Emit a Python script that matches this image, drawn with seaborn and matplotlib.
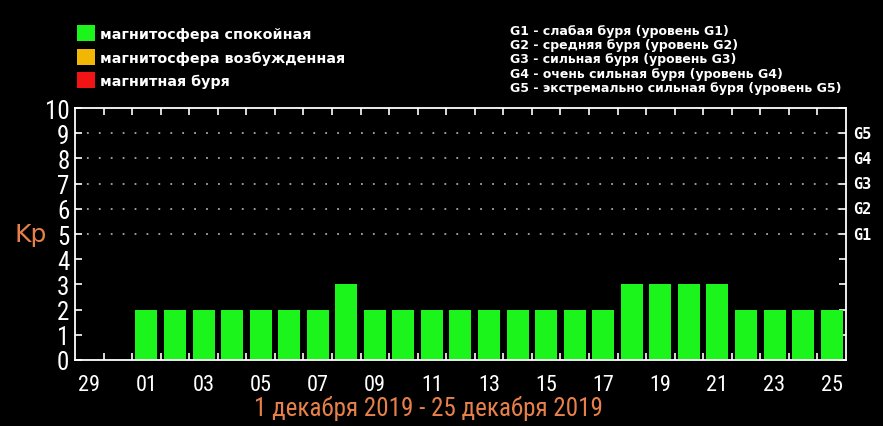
import numpy as np
import pandas as pd
import matplotlib
matplotlib.use("Agg")
import matplotlib.pyplot as plt
import seaborn as sns
from matplotlib.patches import Patch

# Kp index, 29 Nov 2019 - 25 Dec 2019
days = ['29', '30', '01', '02', '03', '04', '05', '06', '07', '08', '09', '10', '11', '12',
        '13', '14', '15', '16', '17', '18', '19', '20', '21', '22', '23', '24', '25']
kp = [0, 0, 2, 2, 2, 2, 2, 2, 2, 3, 2, 2, 2, 2,
      2, 2, 2, 2, 2, 3, 3, 3, 3, 2, 2, 2, 2]
storm_levels = [5, 6, 7, 8, 9]
storm_labels = ['G1', 'G2', 'G3', 'G4', 'G5']
legend_labels = ['магнитосфера спокойная', 'магнитосфера возбужденная', 'магнитная буря']
legend_colors = ['#1cf51c', '#f2b705', '#f21414']
g_descr = ['G1 - слабая буря (уровень G1)',
           'G2 - средняя буря (уровень G2)',
           'G3 - сильная буря (уровень G3)',
           'G4 - очень сильная буря (уровень G4)',
           'G5 - экстремально сильная буря (уровень G5)']
period = '1 декабря 2019 - 25 декабря 2019'

df = pd.DataFrame({'day': days, 'kp': kp})

sns.set_style('dark')
plt.rcParams['font.family'] = ['DejaVu Sans']
# condensed look for the numbers, falls through to whatever is installed
narrow = ['Roboto Condensed', 'Liberation Sans Narrow', 'Roboto', 'DejaVu Sans']
orange = '#e8804a'

fig = plt.figure(figsize=(8.83, 4.27), dpi=100, facecolor='black')
ax = fig.add_axes([0.085, 0.1546, 0.873, 0.59])
ax.set_facecolor('black')

sns.barplot(data=df, x='day', y='kp', order=days, color=legend_colors[0],
            saturation=1, width=0.77, linewidth=0, ax=ax)

ax.set_xlim(-0.5, len(days) - 0.5)
ax.set_ylim(0, 10)

# dotted storm-level lines
for lv in storm_levels:
    ax.axhline(lv, color='#a8a8a8', linestyle=(0, (1, 5.6)), linewidth=1.3, zorder=0)

for s in ax.spines.values():
    s.set_color('white')
    s.set_linewidth(1.3)

ax.set_yticks(range(0, 11))
ax.set_yticklabels([str(i) for i in range(0, 11)], family=narrow, fontsize=18, color='white')
ax.tick_params(axis='y', which='major', direction='in', length=5, width=1.2, color='white',
               left=True, right=True, pad=4)

ax.set_xticks(range(0, len(days), 2))
ax.set_xticklabels(days[::2], family=narrow, fontsize=16, color='white')
ax.tick_params(axis='x', which='major', length=0, pad=10)
ax.set_xticks(np.arange(0.5, len(days) - 1, 1), minor=True)
ax.tick_params(axis='x', which='minor', direction='in', length=5, width=1.2, color='white',
               top=True, bottom=True)
ax.grid(False)
ax.set_xlabel('')
ax.set_ylabel('')

ax.text(-0.057, 5, 'Kp', transform=ax.get_yaxis_transform(), color=orange,
        fontsize=18, ha='center', va='center')
for lv, lab in zip(storm_levels, storm_labels):
    ax.text(1.009, lv, lab, transform=ax.get_yaxis_transform(), color='white',
            fontsize=11, fontweight='bold', family='DejaVu Sans Mono', ha='left', va='center')

fig.text(0.485, 0.043, period, color=orange, fontsize=18, family=narrow,
         ha='center', va='center')

handles = [Patch(facecolor=c, edgecolor='none') for c in legend_colors]
fig.legend(handles, legend_labels, loc='upper left', bbox_to_anchor=(0.087, 0.938),
           frameon=False, labelcolor='white', prop={'size': 10.3, 'weight': 'bold'},
           handlelength=1.3, handleheight=1.3, handletextpad=0.35,
           labelspacing=0.55, borderpad=0, borderaxespad=0)

for i, line in enumerate(g_descr):
    fig.text(0.578, 0.927 - i * 0.0335, line, color='white', fontsize=9,
             fontweight='bold', ha='left', va='center')

fig.savefig('out.png', dpi=100, facecolor='black')
